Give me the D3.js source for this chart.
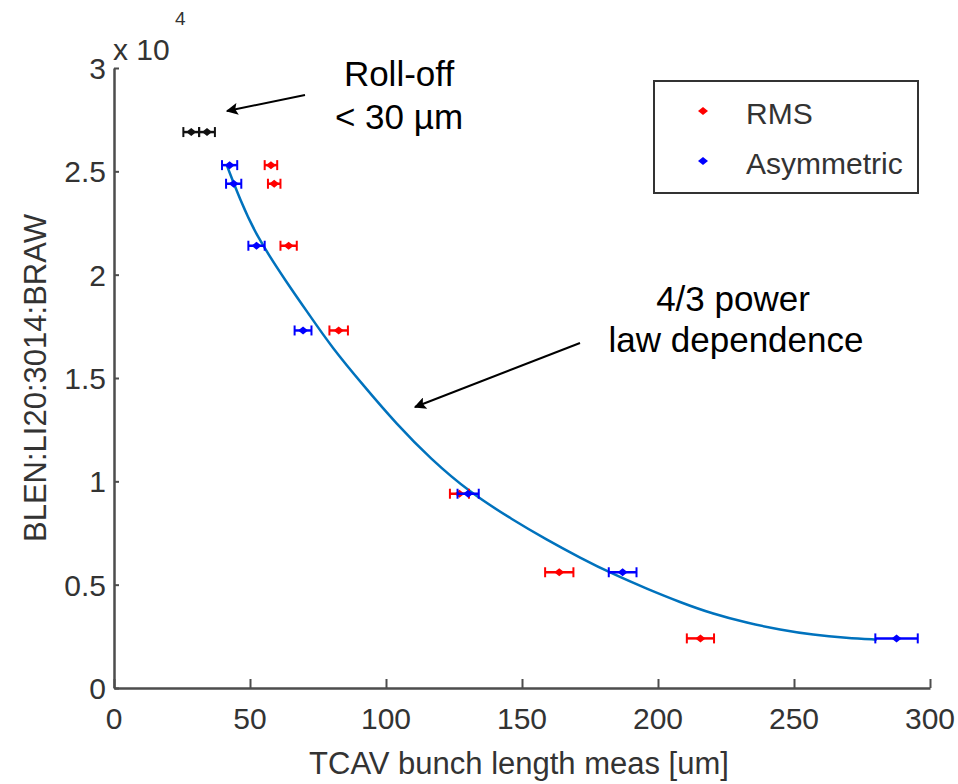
<!DOCTYPE html>
<html lang="en">
<head>
    <meta charset="UTF-8">
    <title>BLEN vs TCAV</title>
    <script type="text/javascript" src="https://cdn.jsdelivr.net/npm/d3@7/dist/d3.min.js"></script>
    <style>
        body { margin: 0; background: #fff; }
        text { font-family: "Liberation Sans", Arial, sans-serif; }
    </style>
</head>
<body>
<script type="text/javascript">
    let width = 958, height = 784;

    // data (x in um, y in raw counts)
    let rowY = [25300, 24400, 21400, 17300, 9400, 5600, 2400];
    let rmsX = [57.7, 58.9, 64.2, 82.6, 127, 163.7, 215.6];
    let rmsErr = [2.3, 2.3, 3.0, 3.4, 3.5, 5.2, 5.0];
    let asymX = [42.5, 44.0, 52.4, 69.5, 130.2, 187.0, 287.7];
    let asymErr = [2.8, 2.8, 3.0, 3.1, 3.9, 5.1, 7.8];
    let rollX = [28.4, 34.2];
    let rollY = [26900, 26900];
    let rollErr = [2.9, 2.9];

    // fitted curve, points
    let fitX = [41.6, 46.3, 52.4, 63.6, 72.1, 80.0, 91.6, 104.0, 116.3, 130.9, 146.7, 159.0,
        171.4, 183.6, 195.9, 208.1, 220.3, 232.7, 244.9, 257.0, 269.4, 280.4];
    let fitY = [25250, 23650, 21850, 19600, 18000, 16500, 14650, 12750, 11100, 9450, 8130, 7180,
        6300, 5500, 4800, 4150, 3580, 3150, 2820, 2570, 2420, 2340];

    let xTicks = [0, 50, 100, 150, 200, 250, 300];
    let yTicks = [0, 5000, 10000, 15000, 20000, 25000, 30000];
    let yTickLabels = ['0', '0.5', '1', '1.5', '2', '2.5', '3'];

    let svg = d3.select('body').append('svg')
        .attr('width', width)
        .attr('height', height);

    let mLeft = 114, mRight = 930, mTop = 68, mBottom = 688;

    let x = d3.scaleLinear().domain([0, 300]).range([mLeft, mRight]);
    let y = d3.scaleLinear().domain([0, 30000]).range([mBottom, mTop]);

    // axes (ticks point inward like matlab)
    let xAxis = d3.axisTop(x).tickValues(xTicks).tickSize(9).tickSizeOuter(0).tickFormat('');
    let yAxis = d3.axisRight(y).tickValues(yTicks).tickSize(5).tickSizeOuter(0).tickFormat('');

    let gx = svg.append('g').attr('transform', 'translate(0,' + mBottom + ')').call(xAxis);
    let gy = svg.append('g').attr('transform', 'translate(' + mLeft + ',0)').call(yAxis);
    [gx, gy].forEach(function (g) {
        g.select('.domain').attr('stroke', '#4d4d4d').attr('stroke-width', 2.5);
        g.selectAll('.tick line').attr('stroke', '#4d4d4d').attr('stroke-width', 2);
    });

    svg.append('g').selectAll('text')
        .data(xTicks)
        .enter()
        .append('text')
        .attr('x', function (d) { return x(d); })
        .attr('y', mBottom + 41)
        .attr('text-anchor', 'middle')
        .attr('font-size', 30)
        .attr('fill', '#333')
        .text(function (d) { return d; });

    svg.append('g').selectAll('text')
        .data(yTicks)
        .enter()
        .append('text')
        .attr('x', mLeft - 8)
        .attr('y', function (d) { return y(d) + 11; })
        .attr('text-anchor', 'end')
        .attr('font-size', 30)
        .attr('fill', '#333')
        .text(function (d, i) { return yTickLabels[i]; });

    // exponent label
    svg.append('text').attr('x', 113).attr('y', 60).attr('font-size', 30).attr('fill', '#333').text('x 10');
    svg.append('text').attr('x', 175).attr('y', 25).attr('font-size', 19).attr('fill', '#333').text('4');

    // axis titles
    svg.append('text')
        .attr('x', (mLeft + mRight) / 2 - 3)
        .attr('y', 774)
        .attr('text-anchor', 'middle')
        .attr('font-size', 31)
        .attr('fill', '#333')
        .text('TCAV bunch length meas [um]');

    svg.append('text')
        .attr('transform', 'translate(46,' + ((mTop + mBottom) / 2) + ') rotate(-90)')
        .attr('text-anchor', 'middle')
        .attr('font-size', 31)
        .attr('fill', '#333')
        .text('BLEN:LI20:3014:BRAW');

    // fitted curve
    let line = d3.line()
        .x(function (d) { return x(d[0]); })
        .y(function (d) { return y(d[1]); })
        .curve(d3.curveBasis);
    svg.append('path')
        .attr('d', line(d3.zip(fitX, fitY)))
        .attr('fill', 'none')
        .attr('stroke', '#0072bd')
        .attr('stroke-width', 2.5);

    // error bar series
    function drawSeries(xs, ys, errs, color) {
        let pts = xs.map(function (v, i) { return {x: v, y: ys[i], e: errs[i]}; });
        let g = svg.append('g').selectAll('g')
            .data(pts)
            .enter()
            .append('g');
        g.append('line')
            .attr('x1', function (d) { return x(d.x - d.e); })
            .attr('x2', function (d) { return x(d.x + d.e); })
            .attr('y1', function (d) { return y(d.y); })
            .attr('y2', function (d) { return y(d.y); })
            .attr('stroke', color).attr('stroke-width', 2.5);
        [-1, 1].forEach(function (s) {
            g.append('line')
                .attr('x1', function (d) { return x(d.x + s * d.e); })
                .attr('x2', function (d) { return x(d.x + s * d.e); })
                .attr('y1', function (d) { return y(d.y) - 5; })
                .attr('y2', function (d) { return y(d.y) + 5; })
                .attr('stroke', color).attr('stroke-width', 2);
        });
        g.append('path')
            .attr('transform', function (d) { return 'translate(' + x(d.x) + ',' + y(d.y) + ')'; })
            .attr('d', 'M-5,0L0,-4L5,0L0,4Z')
            .attr('fill', color);
    }

    drawSeries(rollX, rollY, rollErr, '#111');
    drawSeries(rmsX, rowY, rmsErr, '#ff0000');
    drawSeries(asymX, rowY, asymErr, '#0000ff');

    // legend
    let legend = svg.append('g');
    legend.append('rect')
        .attr('x', 654).attr('y', 81).attr('width', 264).attr('height', 112)
        .attr('fill', '#fff').attr('stroke', '#333').attr('stroke-width', 2);
    let legendItems = [['RMS', '#ff0000'], ['Asymmetric', '#0000ff']];
    legendItems.forEach(function (d, i) {
        let cy = 111 + i * 50;
        legend.append('path')
            .attr('transform', 'translate(703,' + cy + ')')
            .attr('d', 'M-5,0L0,-4L5,0L0,4Z')
            .attr('fill', d[1]);
        legend.append('text')
            .attr('x', 746).attr('y', cy + 13)
            .attr('font-size', 30).attr('fill', '#333')
            .text(d[0]);
    });

    // annotations
    svg.append('defs').append('marker')
        .attr('id', 'head')
        .attr('viewBox', '0 0 10 10')
        .attr('refX', 9).attr('refY', 5)
        .attr('markerWidth', 8).attr('markerHeight', 6)
        .attr('markerUnits', 'strokeWidth')
        .attr('orient', 'auto')
        .append('path').attr('d', 'M0,0L10,5L0,10L2,5Z').attr('fill', '#000');

    svg.append('line').attr('x1', 305).attr('y1', 95).attr('x2', 227).attr('y2', 111)
        .attr('stroke', '#000').attr('stroke-width', 2).attr('marker-end', 'url(#head)');
    svg.append('line').attr('x1', 580).attr('y1', 343).attr('x2', 415).attr('y2', 407)
        .attr('stroke', '#000').attr('stroke-width', 2).attr('marker-end', 'url(#head)');

    let notes = [['Roll-off', 399, 86], ['< 30 \u00b5m', 399, 129], ['4/3 power', 733, 311], ['law dependence', 736, 352]];
    notes.forEach(function (d) {
        svg.append('text')
            .attr('x', d[1]).attr('y', d[2])
            .attr('text-anchor', 'middle')
            .attr('font-size', 35)
            .attr('fill', '#000')
            .text(d[0]);
    });
</script>
</body>
</html>
